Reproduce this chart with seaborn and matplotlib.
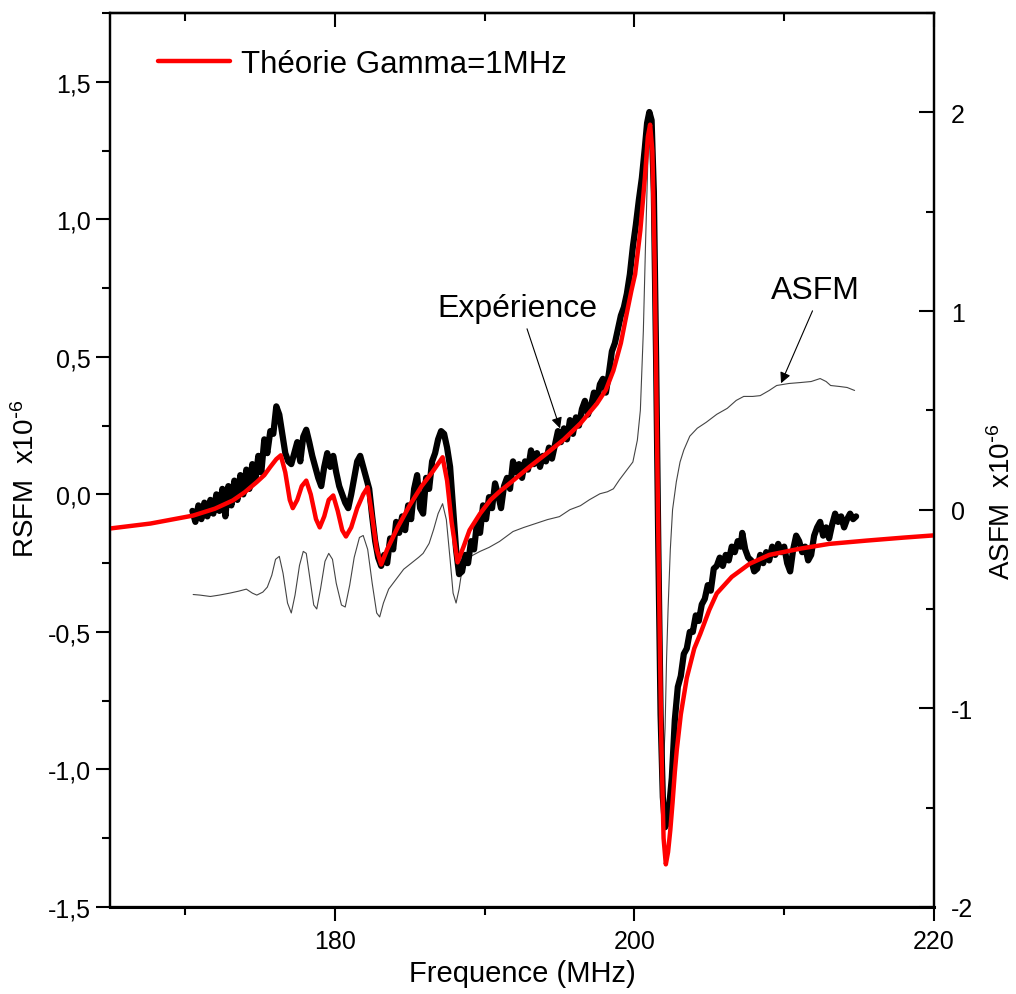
import numpy as np
import pandas as pd
import matplotlib
matplotlib.use("Agg")
import matplotlib.pyplot as plt
from matplotlib.ticker import FuncFormatter, MultipleLocator
from matplotlib.lines import Line2D
import seaborn as sns

# ---------------- data ----------------
# Theory curve (left axis, RSFM x1e-6)
theory_freq = [165.0, 167.7, 170.55, 172.0, 173.2, 174.0, 174.8, 175.3, 175.7, 176.1,
               176.4, 176.7, 177.0, 177.2, 177.5, 177.8, 178.1, 178.4, 178.75, 179.0,
               179.3, 179.6, 179.9, 180.2, 180.5, 180.75, 181.1, 181.5, 181.9, 182.2,
               182.5, 182.8, 183.1, 183.5, 184.2, 185.0, 185.8, 186.5, 187.2, 187.5,
               187.8, 188.2, 188.6, 189.0, 189.7, 190.4, 191.0, 191.9, 193.0, 194.15,
               195.3, 196.4, 197.5, 198.1, 198.6, 199.1, 199.5, 199.8, 200.05, 200.4,
               200.7, 200.9, 201.05, 201.2, 201.35, 201.5, 201.65, 201.8, 201.95, 202.1,
               202.25, 202.4, 202.55, 202.7, 202.83, 203.1, 203.5, 204.0, 204.4, 205.0,
               205.5, 206.5, 207.7, 209.0, 211.1, 213.0, 215.5, 218.0, 220.0]
theory_rsfm = [-0.124, -0.106, -0.077, -0.052, -0.022, 0.008, 0.045, 0.07, 0.10, 0.128,
               0.142, 0.08, -0.02, -0.05, -0.02, 0.03, 0.05, 0.0, -0.09, -0.12,
               -0.08, -0.02, -0.004, -0.06, -0.13, -0.153, -0.12, -0.05, 0.0, 0.026,
               -0.08, -0.20, -0.255, -0.20, -0.12, -0.04, 0.03, 0.08, 0.135, 0.05,
               -0.10, -0.247, -0.19, -0.13, -0.07, -0.02, 0.01, 0.05, 0.10, 0.149,
               0.20, 0.258, 0.33, 0.38, 0.45, 0.55, 0.66, 0.74, 0.80, 0.96,
               1.15, 1.30, 1.344, 1.25, 0.85, 0.25, -0.35, -0.90, -1.25, -1.345,
               -1.30, -1.22, -1.12, -1.01, -0.93, -0.80, -0.667, -0.56, -0.507, -0.42,
               -0.36, -0.30, -0.252, -0.22, -0.197, -0.18, -0.168, -0.157, -0.149]

# Experimental curve (left axis)
exp_freq = [170.5, 170.7, 170.9, 171.1, 171.3, 171.5, 171.7, 171.9, 172.1, 172.3,
            172.5, 172.7, 172.9, 173.1, 173.3, 173.5, 173.7, 173.9, 174.1, 174.3,
            174.5, 174.7, 174.9, 175.1, 175.3, 175.5, 175.7, 175.9, 176.1, 176.3,
            176.5, 176.7, 176.9, 177.1, 177.3, 177.5, 177.7, 177.9, 178.1, 178.3,
            178.5, 178.7, 178.9, 179.1, 179.3, 179.5, 179.7, 179.9, 180.1, 180.3,
            180.5, 180.7, 180.9, 181.1, 181.3, 181.5, 181.7, 181.9, 182.1, 182.3,
            182.5, 182.7, 182.9, 183.1, 183.3, 183.5, 183.7, 183.9, 184.1, 184.3,
            184.5, 184.7, 184.9, 185.1, 185.3, 185.5, 185.7, 185.9, 186.1, 186.3,
            186.5, 186.7, 186.9, 187.1, 187.3, 187.5, 187.7, 187.9, 188.1, 188.3,
            188.5, 188.7, 188.9, 189.1, 189.3, 189.5, 189.7, 189.9, 190.1, 190.3,
            190.5, 190.7, 190.9, 191.1, 191.3, 191.5, 191.7, 191.9, 192.1, 192.3,
            192.5, 192.7, 192.9, 193.1, 193.3, 193.5, 193.7, 193.9, 194.1, 194.3,
            194.5, 194.7, 194.9, 195.1, 195.3, 195.5, 195.7, 195.9, 196.1, 196.3,
            196.5, 196.7, 196.9, 197.1, 197.3, 197.5, 197.7, 197.9, 198.1, 198.3,
            198.5, 198.7, 198.9, 199.1, 199.3, 199.5, 199.7, 199.9, 200.1, 200.3,
            200.5, 200.7, 200.85, 201.0, 201.15, 201.3, 201.45, 201.6, 201.75, 201.9,
            202.05, 202.2, 202.35, 202.5, 202.7, 202.9, 203.1, 203.3, 203.5, 203.7,
            203.9, 204.1, 204.3, 204.5, 204.7, 204.9, 205.1, 205.3, 205.5, 205.7,
            205.9, 206.1, 206.3, 206.5, 206.7, 206.9, 207.1, 207.2, 207.4, 207.6,
            207.8, 208.0, 208.2, 208.4, 208.6, 208.8, 209.0, 209.2, 209.4, 209.6,
            209.8, 210.0, 210.2, 210.4, 210.6, 210.8, 211.0, 211.2, 211.4, 211.6,
            211.8, 212.0, 212.2, 212.4, 212.6, 212.8, 213.0, 213.2, 213.4, 213.6,
            213.8, 214.0, 214.2, 214.4, 214.6, 214.8]
exp_rsfm = [-0.06, -0.10, -0.04, -0.09, -0.03, -0.08, -0.02, -0.07, 0.00, -0.06,
            0.02, -0.08, 0.03, -0.04, 0.05, -0.02, 0.07, 0.00, 0.09, 0.02,
            0.11, 0.05, 0.14, 0.08, 0.20, 0.15, 0.23, 0.22, 0.32, 0.29,
            0.22, 0.15, 0.12, 0.11, 0.15, 0.19, 0.12, 0.21, 0.235, 0.19,
            0.14, 0.10, 0.06, 0.03, 0.10, 0.15, 0.10, 0.14, 0.08, 0.03,
            0.00, -0.03, -0.05, 0.00, 0.06, 0.12, 0.14, 0.10, 0.06, 0.02,
            -0.08, -0.17, -0.23, -0.26, -0.22, -0.25, -0.16, -0.20, -0.10, -0.14,
            -0.08, -0.13, -0.04, -0.09, 0.02, 0.07, -0.05, -0.07, 0.06, 0.02,
            0.12, 0.15, 0.20, 0.23, 0.22, 0.17, 0.10, -0.05, -0.20, -0.29,
            -0.28, -0.22, -0.25, -0.17, -0.20, -0.10, -0.14, -0.04, -0.09, -0.01,
            -0.05, 0.04, 0.00, -0.05, 0.03, 0.06, 0.02, 0.12, 0.08, 0.11,
            0.06, 0.12, 0.09, 0.16, 0.11, 0.15, 0.10, 0.14, 0.12, 0.17,
            0.13, 0.18, 0.23, 0.19, 0.24, 0.20, 0.27, 0.22, 0.28, 0.25,
            0.31, 0.34, 0.29, 0.32, 0.37, 0.34, 0.40, 0.42, 0.37, 0.44,
            0.52, 0.55, 0.60, 0.65, 0.68, 0.73, 0.80, 0.90, 0.98, 1.07,
            1.15, 1.26, 1.35, 1.39, 1.36, 1.10, 0.50, -0.20, -0.80, -1.10,
            -1.21, -1.19, -1.12, -1.03, -0.82, -0.70, -0.66, -0.58, -0.56, -0.50,
            -0.50, -0.44, -0.46, -0.40, -0.38, -0.33, -0.35, -0.27, -0.26, -0.23,
            -0.26, -0.22, -0.24, -0.19, -0.21, -0.17, -0.19, -0.14, -0.20, -0.23,
            -0.24, -0.28, -0.27, -0.22, -0.25, -0.21, -0.24, -0.19, -0.22, -0.18,
            -0.21, -0.19, -0.25, -0.28, -0.20, -0.15, -0.17, -0.21, -0.19, -0.24,
            -0.22, -0.15, -0.12, -0.10, -0.15, -0.12, -0.16, -0.11, -0.07, -0.10,
            -0.08, -0.12, -0.09, -0.07, -0.09, -0.08]

# ASFM curve (right axis, x1e-6)
asfm_freq = [170.55, 171.0, 171.7, 172.3, 173.0, 173.6, 174.1, 174.5, 174.8, 175.2,
             175.5, 175.8, 176.05, 176.3, 176.55, 176.85, 177.1, 177.35, 177.65, 177.9,
             178.1, 178.35, 178.6, 178.8, 179.05, 179.35, 179.6, 179.85, 180.1, 180.45,
             180.7, 181.0, 181.3, 181.65, 181.9, 182.2, 182.5, 182.8, 183.0, 183.25,
             183.6, 184.1, 184.6, 185.1, 185.6, 185.9, 186.3, 186.6, 186.9, 187.2,
             187.45, 187.7, 187.9, 188.1, 188.3, 188.5, 188.7, 189.2, 189.7, 190.3,
             191.0, 191.9, 192.6, 193.4, 194.2, 195.0, 195.7, 196.4, 197.0, 197.7,
             198.2, 198.6, 199.0, 199.5, 199.9, 200.2, 200.4, 200.6, 200.75, 200.9,
             201.05, 201.2, 201.4, 201.55, 201.7, 201.85, 201.95, 202.05, 202.15, 202.25,
             202.4, 202.55, 202.8, 203.05, 203.3, 203.7, 204.2, 204.8, 205.5, 206.2,
             206.8, 207.3, 207.9, 208.4, 209.0, 209.5, 210.3, 211.1, 211.8, 212.4,
             212.8, 213.1, 213.7, 214.2, 214.7]
asfm_val = [-0.427, -0.43, -0.437, -0.43, -0.42, -0.41, -0.40, -0.42, -0.43, -0.415,
            -0.39, -0.33, -0.25, -0.235, -0.32, -0.47, -0.52, -0.43, -0.28, -0.21,
            -0.22, -0.35, -0.48, -0.50, -0.40, -0.26, -0.22, -0.25, -0.37, -0.48,
            -0.49, -0.38, -0.24, -0.14, -0.13, -0.20, -0.37, -0.52, -0.54, -0.47,
            -0.40, -0.35, -0.30, -0.27, -0.24, -0.22, -0.17, -0.10, -0.02, 0.03,
            -0.05, -0.25, -0.42, -0.47, -0.40, -0.30, -0.255, -0.23, -0.21, -0.19,
            -0.16, -0.11, -0.09, -0.07, -0.05, -0.035, 0.00, 0.02, 0.05, 0.08,
            0.09, 0.105, 0.15, 0.20, 0.24, 0.35, 0.50, 0.90, 1.35, 1.76,
            1.96, 1.90, 1.40, 0.40, -0.60, -1.15, -1.28, -1.10, -0.75, -0.50,
            -0.20, 0.00, 0.14, 0.24, 0.30, 0.37, 0.41, 0.44, 0.48, 0.51,
            0.55, 0.57, 0.57, 0.574, 0.60, 0.625, 0.635, 0.64, 0.645, 0.66,
            0.645, 0.625, 0.62, 0.615, 0.60]

x_major = [180, 200, 220]
x_minor = [170, 190, 210]

# ---------------- style ----------------
sns.set_style("ticks")
plt.rcParams['font.family'] = ['Liberation Sans', 'DejaVu Sans']
plt.rcParams['mathtext.default'] = 'regular'
plt.rcParams['axes.linewidth'] = 1.6
for key in ('text.color', 'axes.labelcolor', 'xtick.color', 'ytick.color', 'axes.edgecolor'):
    plt.rcParams[key] = 'black'

fig = plt.figure(figsize=(10.16, 9.95), dpi=100)
ax = fig.add_axes([110 / 1016, 1 - 908 / 995, 824 / 1016, 894 / 995])
ax2 = ax.twinx()

df_theory = pd.DataFrame({"f": theory_freq, "v": theory_rsfm})
df_exp = pd.DataFrame({"f": exp_freq, "v": exp_rsfm})
df_asfm = pd.DataFrame({"f": asfm_freq, "v": asfm_val})

sns.lineplot(data=df_asfm, x="f", y="v", ax=ax2, color="#444444", lw=0.8,
             estimator=None, sort=False, legend=False)
sns.lineplot(data=df_exp, x="f", y="v", ax=ax, color="black", lw=4.5,
             estimator=None, sort=False, legend=False)
sns.lineplot(data=df_theory, x="f", y="v", ax=ax, color="#ff0000", lw=3.2,
             estimator=None, sort=False, legend=False)

# put the main axes above the twin so the ASFM trace lies underneath
ax.set_zorder(ax2.get_zorder() + 1)
ax.patch.set_visible(False)

ax.set_xlim(165, 220)
ax.set_ylim(-1.5, 1.75)
ax2.set_ylim(-2, 2.5)

# x ticks
ax.set_xticks(x_major)
ax.set_xticks(x_minor, minor=True)
ax.tick_params(axis='x', which='major', direction='out', length=10, width=1.5,
               labelsize=18, pad=6, top=False)
ax.tick_params(axis='x', which='minor', direction='out', length=6, width=1.5, top=False)
top = ax.secondary_xaxis('top')
top.set_xticks(x_major)
top.set_xticks(x_minor, minor=True)
top.tick_params(axis='x', which='major', direction='in', length=10, width=1.5, labeltop=False)
top.tick_params(axis='x', which='minor', direction='in', length=6, width=1.5)
top.set_xticklabels([])

# left y ticks
ax.yaxis.set_major_locator(MultipleLocator(0.5))
ax.yaxis.set_minor_locator(MultipleLocator(0.25))
ax.yaxis.set_major_formatter(FuncFormatter(lambda v, p: f"{v:.1f}".replace('.', ',')))
ax.tick_params(axis='y', which='major', direction='out', length=10, width=1.5,
               labelsize=18, pad=4, right=False)
ax.tick_params(axis='y', which='minor', direction='out', length=6, width=1.5, right=False)

# right y ticks
ax2.yaxis.set_major_locator(MultipleLocator(1))
ax2.yaxis.set_minor_locator(MultipleLocator(0.5))
ax2.yaxis.set_major_formatter(FuncFormatter(lambda v, p: f"{int(round(v))}"))
ax2.tick_params(axis='y', which='major', direction='in', length=11, width=1.5,
                labelsize=18, pad=12)
ax2.tick_params(axis='y', which='minor', direction='in', length=6, width=1.5)

for a in (ax, ax2):
    for s in a.spines.values():
        s.set_linewidth(1.6)
        s.set_color('black')
ax.spines['bottom'].set_linewidth(2.2)

ax.set_xlabel("Frequence (MHz)", fontsize=21, labelpad=4)
ax.set_ylabel(r"RSFM  x10$^{\text{-}6}$", fontsize=20)
ax.yaxis.set_label_coords(-0.085, 0.48)
ax2.set_ylabel(r"ASFM  x10$^{\text{-}6}$", fontsize=20)
ax2.yaxis.set_label_coords(1.066, 0.455)

# legend
handle = Line2D([], [], color="#ff0000", lw=3.2)
ax.legend([handle], ["Théorie Gamma=1MHz"], loc='center left',
          bbox_to_anchor=(0.058, 0.943), frameon=False, fontsize=22.5,
          handlelength=2.3, handletextpad=0.35, borderpad=0, borderaxespad=0)

# annotations
ax.annotate("Expérience", xy=(195.04, 0.24), xytext=(192.17, 0.678),
            ha='center', va='center', fontsize=23,
            arrowprops=dict(arrowstyle='-|>', color='black', lw=0.8,
                            mutation_scale=16, relpos=(0.55, 0.0), shrinkA=2, shrinkB=0))
ax.annotate("ASFM", xy=(209.79, 0.404), xytext=(212.06, 0.743),
            ha='center', va='center', fontsize=23,
            arrowprops=dict(arrowstyle='-|>', color='black', lw=0.8,
                            mutation_scale=16, relpos=(0.5, 0.0), shrinkA=2, shrinkB=0))

fig.savefig("out.png", dpi=100)
